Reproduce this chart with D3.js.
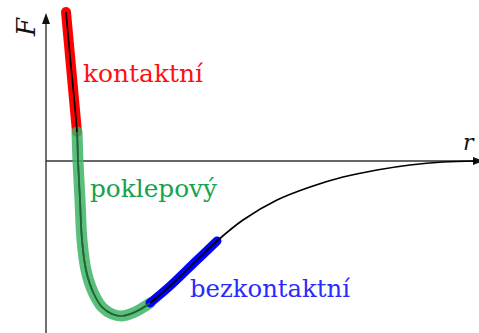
<!DOCTYPE html>
<meta charset="utf-8">
<title>F(r)</title>
<script src="https://cdn.jsdelivr.net/npm/d3@7"></script>
<style>
  body { margin: 0; background: #fff; }
  text { font-family: "DejaVu Serif", serif; }
</style>
<body>
<svg></svg>
<script>
var width = 479,
    height = 333;

// curve: r (distance) and F (force)
var rValues = [0.20, 0.244, 0.31, 0.32, 0.34, 0.36, 0.40, 0.47, 0.56, 0.66, 0.76, 0.89, 1.04, 1.24, 1.49, 1.71, 1.97, 2.31, 2.64, 2.97, 3.31, 3.64, 3.97, 4.30];
var fValues = [1.49, 1.01, 0.29, 0.0, -0.39, -0.79, -1.09, -1.31, -1.46, -1.53, -1.55, -1.51, -1.42, -1.25, -1.01, -0.80, -0.59, -0.39, -0.26, -0.16, -0.09, -0.04, -0.01, 0.0];

// regimes: name, from r, to r
var regimeNames = ["kontaktní", "poklepový", "bezkontaktní"];
var regimeFrom  = [0.20, 0.31, 1.04];
var regimeTo    = [0.31, 1.04, 1.71];
var regimeColors = ["#ff0000", "#3cb464", "#0000ff"];
var labelColors  = ["#ff1010", "#16a24c", "#2a2aff"];

var axisLabels = ["F", "r"];

var data = rValues.map(function(r, i) { return {r: r, f: fValues[i]}; });

var x = d3.scaleLinear().domain([0, 4.30]).range([46, 476]);
var y = d3.scaleLinear().domain([-1.72, 1.49]).range([333, 12]);

var svg = d3.select("svg")
    .attr("width", width)
    .attr("height", height);

var line = d3.line()
    .x(function(d) { return x(d.r); })
    .y(function(d) { return y(d.f); })
    .curve(d3.curveCatmullRom.alpha(0.5));

// axes
svg.append("line")
    .attr("x1", x(0)).attr("x2", x(0))
    .attr("y1", 20).attr("y2", height)
    .attr("stroke", "#222").attr("stroke-width", 1.3);
svg.append("path")
    .attr("d", "M" + x(0) + ",13L" + (x(0) - 4) + ",24L" + (x(0) + 4) + ",24Z")
    .attr("fill", "#111");

svg.append("line")
    .attr("x1", x(0)).attr("x2", 474)
    .attr("y1", y(0)).attr("y2", y(0))
    .attr("stroke", "#333").attr("stroke-width", 1.4);
svg.append("path")
    .attr("d", "M484," + y(0) + "L473," + (y(0) - 4) + "L473," + (y(0) + 4) + "Z")
    .attr("fill", "#111");

// thick regime segments
var thick = [10, 11, 9];
regimeNames.forEach(function(name, i) {
  var seg = data.filter(function(d) { return d.r >= regimeFrom[i] && d.r <= regimeTo[i]; });
  svg.append("path")
      .datum(seg)
      .attr("d", line)
      .attr("fill", "none")
      .attr("stroke", regimeColors[i])
      .attr("stroke-width", thick[i])
      .attr("stroke-linecap", "round")
      .attr("stroke-opacity", i == 1 ? 0.85 : 1);
});

// thin curve
svg.append("path")
    .datum(data)
    .attr("d", line)
    .attr("fill", "none")
    .attr("stroke", "#000")
    .attr("stroke-width", 1.7);

// green over the thin line so it reads dark green
var midSeg = data.filter(function(d) { return d.r >= regimeFrom[1] && d.r <= regimeTo[1]; });
svg.append("path")
    .datum(midSeg)
    .attr("d", line)
    .attr("fill", "none")
    .attr("stroke", "#3cb464")
    .attr("stroke-width", 1.8)
    .attr("stroke-opacity", 0.55);

// regime labels
var labelX = [83, 90, 190],
    labelY = [82, 197, 297],
    labelW = [120, 127, 160];
svg.selectAll(".regime")
    .data(regimeNames)
    .enter().append("text")
    .attr("class", "regime")
    .attr("x", function(d, i) { return labelX[i]; })
    .attr("y", function(d, i) { return labelY[i]; })
    .attr("textLength", function(d, i) { return labelW[i]; })
    .attr("lengthAdjust", "spacingAndGlyphs")
    .attr("font-size", 24)
    .attr("fill", function(d, i) { return labelColors[i]; })
    .text(function(d) { return d; });

// axis names
svg.append("text")
    .attr("transform", "translate(35,27) rotate(-90)")
    .attr("text-anchor", "middle")
    .attr("font-style", "italic")
    .attr("font-size", 26)
    .attr("fill", "#111")
    .text(axisLabels[0]);

svg.append("text")
    .attr("x", 463)
    .attr("y", 150)
    .attr("font-style", "italic")
    .attr("font-size", 22)
    .attr("fill", "#111")
    .text(axisLabels[1]);
</script>
</body>
